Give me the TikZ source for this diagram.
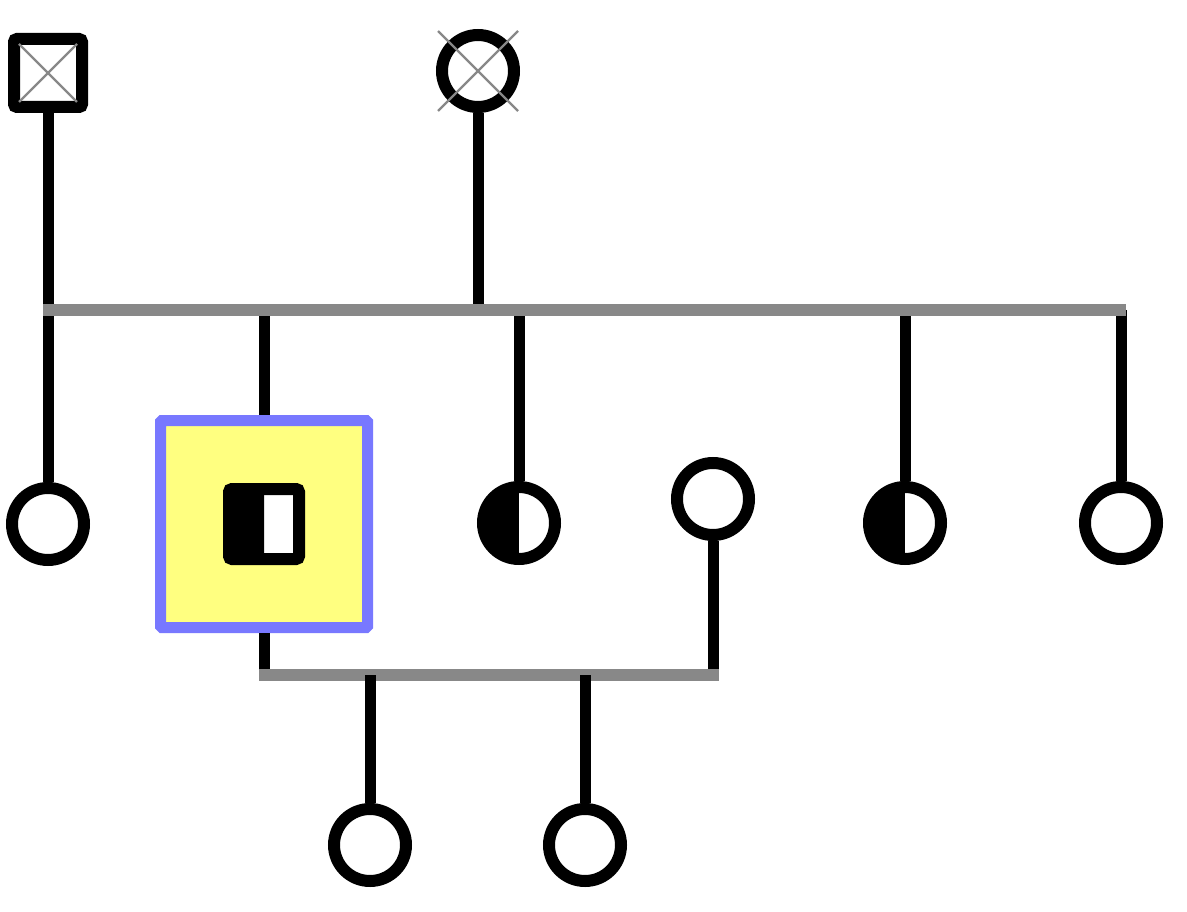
\documentclass[tikz,border=0pt]{standalone}
\definecolor{lgray}{RGB}{136,136,136}
\definecolor{pblue}{RGB}{120,120,255}
\definecolor{pyellow}{RGB}{255,255,128}
\tikzset{
  ind/.style={draw=black, line width=12pt, fill=white, inner sep=0pt, minimum size=72pt},
  fem/.style={ind, circle},
  mal/.style={ind, rectangle, minimum size=68pt, rounded corners=3pt},
  halfleft/.style={path picture={\fill[black] (path picture bounding box.south west) rectangle (path picture bounding box.north);}},
  crossline/.style={draw=lgray, line width=2.4pt},
  vline/.style={draw=black, line width=11pt, line cap=butt},
  hline/.style={draw=lgray, line width=11.5pt, line cap=butt},
  proband/.style={draw=pblue, fill=pyellow, line width=11pt, minimum size=207pt, inner sep=0pt, rounded corners=1.5pt},
}
\begin{document}
\begin{tikzpicture}[x=1pt,y=-1pt]
\useasboundingbox (0,0) rectangle (1187,912);
% proband box
\node[proband] (pb) at (264,524) {};
% individuals
\node[mal] (f) at (48,73) {};
\node[fem] (m) at (478,71) {};
\node[fem] (c1) at (48,524) {};
\node[mal, halfleft, minimum size=70pt] (p) at (264,524) {};
\node[fem, halfleft] (c3) at (519,523) {};
\node[fem] (sp) at (713,499) {};
\node[fem, halfleft] (c5) at (905,523) {};
\node[fem] (c6) at (1121,523) {};
\node[fem] (g1) at (370,845) {};
\node[fem] (g2) at (585,845) {};
% crosses (deceased)
\draw[crossline] ([shift={(-29,-29)}]f.center) -- ([shift={(29,29)}]f.center);
\draw[crossline] ([shift={(-29,29)}]f.center) -- ([shift={(29,-29)}]f.center);
\draw[crossline] ([shift={(-40,-40)}]m.center) -- ([shift={(40,40)}]m.center);
\draw[crossline] ([shift={(-40,40)}]m.center) -- ([shift={(40,-40)}]m.center);
% sibship coordinates
\coordinate (sl) at (43,310);
\coordinate (sr) at (1126,310);
\coordinate (mt) at (478,305);
% vertical lines
\draw[vline] (f.south) -- (c1.north);
\draw[vline] (m.south) -- (mt);
\draw[vline] (pb.north |- 0,310) -- (pb.north);
\draw[vline] (c3.north |- 0,310) -- (c3.north);
\draw[vline] (c5.north |- 0,310) -- (c5.north);
\draw[vline] (c6.north |- 0,310) -- (c6.north);
% sibship line
\draw[hline] (sl) -- (sr);
% marriage
\coordinate (ml) at (264,675);
\coordinate (mr) at (713,675);
\draw[vline] (pb.south) -- (ml);
\draw[vline] (sp.south) -- (mr);
\draw[hline] ([xshift=-5.5pt]ml) -- ([xshift=5.5pt]mr);
\draw[vline] (g1.north |- 0,675) -- (g1.north);
\draw[vline] (g2.north |- 0,675) -- (g2.north);
\end{tikzpicture}
\end{document}
